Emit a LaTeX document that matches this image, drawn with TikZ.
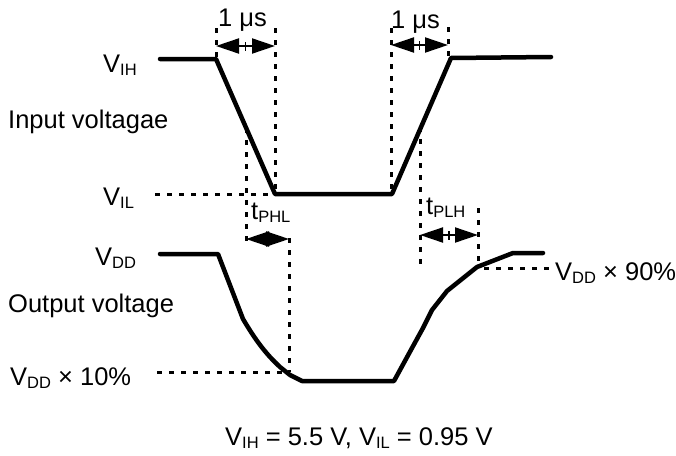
\documentclass[tikz,border=0pt]{standalone}
\usepackage{fontspec}
\setmainfont{Liberation Sans}
\usetikzlibrary{arrows.meta}
\newcommand{\sbx}[1]{\raisebox{-3.5pt}{\fontsize{16.5}{16.5}\selectfont #1}}
\begin{document}
\begin{tikzpicture}[x=1pt,y=-1pt,
  wave/.style={line width=4.5pt,line join=round,line cap=round},
  dotline/.style={line width=3pt,dash pattern=on 5pt off 7pt},
  dimarrow/.style={line width=2pt,-{Triangle[length=23pt,width=15pt]}},
  lbl/.style={inner sep=0pt,anchor=base west,font=\fontsize{25.5}{30}\selectfont}]
\useasboundingbox (0,0) rectangle (676,455);
% input waveform
\coordinate (i0) at (160,59);
\coordinate (i1) at (216,59);
\coordinate (i2) at (275,194);
\coordinate (i3) at (392,194);
\coordinate (i4) at (451,58);
\coordinate (i5) at (551,57);
\draw[wave] (i0) -- (i1) -- (i2) -- (i3) -- (i4) -- (i5);
% output waveform
\coordinate (o0) at (160,254);
\coordinate (o1) at (218,254);
\coordinate (o2) at (243,319);
\coordinate (o3) at (280,367);
\coordinate (o4) at (302,381);
\coordinate (o5) at (394,381);
\coordinate (o6) at (543,253);
\draw[wave] (o0) -- (o1) -- (o2) .. controls (256,341) and (266,354) .. (o3) -- (290,375) -- (o4) -- (o5)
  -- (412,348) -- (423,328) -- (432,310) -- (447,291) -- (477,267) -- (513,253) -- (o6);
% dotted guides
\draw[dotline] (216,28) -- (216,58);
\draw[dotline] (275,28) -- (275,192);
\draw[dotline] (391,28) -- (391,192);
\draw[dotline] (448,27) -- (448,57);
\draw[dotline] (246,128) -- (246,246);
\draw[dotline] (289,238) -- (289,372);
\draw[dotline] (420,127) -- (420,265);
\draw[dotline] (478,208) -- (478,266);
\draw[dotline] (155,194) -- (274,194);
\draw[dotline] (157,372) -- (289,372);
\draw[dotline] (484,268) -- (550,268);
% dimension arrows
\foreach \name/\xa/\xb/\yy in {a/216/275/46, b/391/448/45, c/246/289/239, d/420/478/235}{
  \coordinate (\name l) at (\xa,\yy);
  \coordinate (\name r) at (\xb,\yy);
  \coordinate (\name m) at ({(\xa+\xb)/2},\yy);
  \draw[dimarrow] (\name m) -- (\name l);
  \draw[dimarrow] (\name m) -- (\name r);
  \draw[line width=1.6pt] ([yshift=-4.5pt]\name m) -- ([yshift=4.5pt]\name m);
}
% labels
\node[lbl] (vih) at (103,72) {V\sbx{IH}};
\node[lbl] (inv) at (8,128) {Input voltagae};
\node[lbl] (vil) at (103,205) {V\sbx{IL}};
\node[lbl] (vdd) at (95,265) {V\sbx{DD}};
\node[lbl] (outv) at (8,312) {Output voltage};
\node[lbl] (v10) at (10,385) {V\sbx{DD} × 10\%};
\node[lbl] (v90) at (555,280) {V\sbx{DD} × 90\%};
\node[lbl] (us1) at (218,26) {1 μs};
\node[lbl] (us2) at (391,28) {1 μs};
\node[lbl] (tphl) at (251,219) {t\sbx{PHL}};
\node[lbl] (tplh) at (426,214) {t\sbx{PLH}};
\node[lbl] (cond) at (225,445) {V\sbx{IH} = 5.5 V, V\sbx{IL} = 0.95 V};
\end{tikzpicture}
\end{document}
